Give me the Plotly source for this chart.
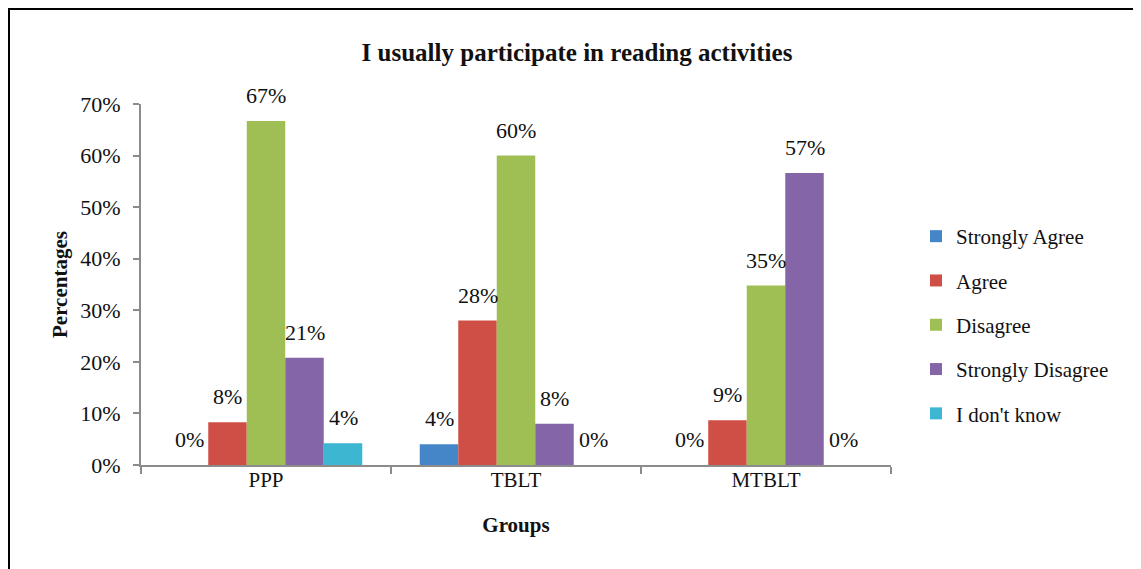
import plotly.graph_objects as go

groups = ["PPP", "TBLT", "MTBLT"]
responses = ["Strongly Agree", "Agree", "Disagree", "Strongly Disagree", "I don't know"]
strongly_agree = [0.0, 4.0, 0.0]
agree = [8.3, 28.0, 8.7]
disagree = [66.7, 60.0, 34.8]
strongly_disagree = [20.8, 8.0, 56.6]
dont_know = [4.2, 0.0, 0.0]
series = [strongly_agree, agree, disagree, strongly_disagree, dont_know]
colors = ["#4586C9", "#CF4E45", "#9FBF55", "#8466A8", "#3DB6D2"]

FONT = "Liberation Serif, Times New Roman, serif"
W, H = 1141, 569
OFF = 8  # page body offset
ML, MR, MT, MB = 141 - OFF, 250 + OFF, 104 - OFF, 104 + OFF
pw = W - ML - MR
ph = H - MT - MB

fig = go.Figure()
for name, vals, col in zip(responses, series, colors):
    fig.add_trace(go.Bar(
        x=groups, y=vals, name=name, marker=dict(color=col, line=dict(width=0)),
        legendgroup=name,
    ))

# data labels
bar_px = pw / 3 * (1 - 0.23) / 5
for i, vals in enumerate(series):
    for g, v in zip(groups, vals):
        fig.add_annotation(
            x=g, y=v, text=f"{v:.0f}%", showarrow=False,
            xshift=(i - 2) * bar_px, yshift=11, yanchor="bottom",
            font=dict(family=FONT, size=22, color="#111"),
        )

def px_x(p):  # p in target page coords
    return (p - OFF - ML) / pw
def px_y(p):
    return (H - MB - (p - OFF)) / ph

# outer frame
fig.add_shape(type="rect", xref="paper", yref="paper",
              x0=px_x(9), x1=px_x(1170), y0=px_y(9), y1=px_y(600),
              line=dict(color="black", width=2), fillcolor="rgba(0,0,0,0)")

fig.update_layout(
    width=W, height=H,
    margin=dict(l=ML, r=MR, t=MT, b=MB, autoexpand=False),
    paper_bgcolor="white", plot_bgcolor="white",
    barmode="group", bargap=0.23, bargroupgap=0,
    font=dict(family=FONT, size=21, color="#111"),
    title=dict(text="<b>I usually participate in reading activities</b>",
               x=(577 - OFF) / W, xanchor="center", y=1 - (52 - OFF) / H, yanchor="middle",
               xref="container", yref="container",
               font=dict(family=FONT, size=25, color="#111")),
    legend=dict(x=px_x(916), y=px_y(216), xanchor="left", yanchor="top",
                font=dict(family=FONT, size=21, color="#111"),
                tracegroupgap=14, itemwidth=30, bgcolor="rgba(0,0,0,0)"),
    showlegend=True,
)
fig.update_xaxes(
    showline=True, linecolor="#8c8c8c", linewidth=2,
    ticks="outside", tickson="boundaries", ticklen=7, tickcolor="#8c8c8c", tickwidth=2,
    showgrid=False,
    tickfont=dict(family=FONT, size=21, color="#111"),
    ticklabelstandoff=-5,
    title=dict(text="<b>Groups</b>", font=dict(family=FONT, size=21, color="#111"), standoff=26),
)
fig.update_yaxes(
    range=[0, 70], dtick=10, ticksuffix="%",
    showline=True, linecolor="#8c8c8c", linewidth=2,
    ticks="outside", ticklen=6, tickcolor="#8c8c8c", tickwidth=2,
    showgrid=False, zeroline=False,
    tickfont=dict(family=FONT, size=22, color="#111"),
    ticklabelstandoff=8,
    title=dict(text="<b>Percentages</b>", font=dict(family=FONT, size=21, color="#111"), standoff=7),
)

fig.write_html("out.html")
